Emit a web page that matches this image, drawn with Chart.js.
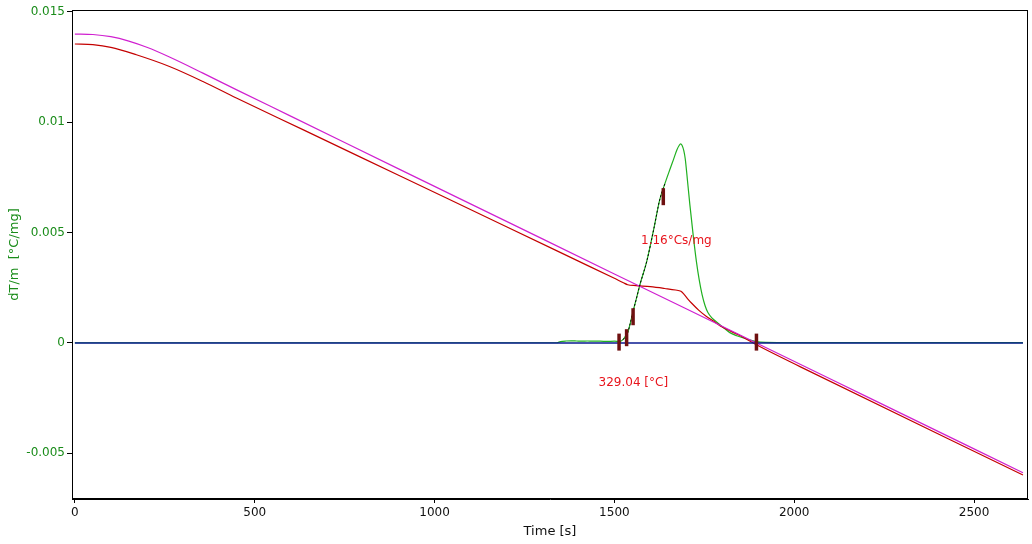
<!DOCTYPE html>
<html>
<head>
<meta charset="utf-8">
<script src="https://cdn.jsdelivr.net/npm/chart.js@4.4.1/dist/chart.umd.min.js"></script>
<style>
  html, body { margin: 0; padding: 0; background: #fff; overflow: hidden; }
  canvas { display: block; }
</style>
</head>
<body>
<canvas id="chart" width="1032" height="544"></canvas>
<script>
// axis ticks
const xTicks = [0, 500, 1000, 1500, 2000, 2500];
const yTicks = [-0.005, 0, 0.005, 0.01, 0.015];
const yTickLabels = ["-0.005", "0", "0.005", "0.01", "0.015"];

// magenta curve (baseline / reference)
const magentaT = [0, 50, 100, 150, 200, 263, 356, 450, 600, 900, 1200, 1500, 1895, 2200, 2636];
const magentaV = [0.01400, 0.01398, 0.01388, 0.01368, 0.01340, 0.01296, 0.01223, 0.01147, 0.01028, 0.00789, 0.00551, 0.00313, 0, -0.00242, -0.00588];

// red curve
const redT = [0, 50, 100, 171, 263, 356, 449, 634, 900, 1200, 1400, 1500, 1525, 1537, 1560, 1600, 1640, 1670, 1685, 1695, 1705, 1715, 1735, 1757, 1780, 1800, 1850, 1895, 2016, 2636];
const redV = [0.01355, 0.01352, 0.01340, 0.01306, 0.01253, 0.01185, 0.01110, 0.00967, 0.00760, 0.00527, 0.00371, 0.00293, 0.00273, 0.00264, 0.00260, 0.00255, 0.00247, 0.00240, 0.00234, 0.00218, 0.00198, 0.00180, 0.00148, 0.00119, 0.00094, 0.00072, 0.00033, -0.00008, -0.00107, -0.00598];

// green curve dT/m
const greenT = [0, 1340, 1350, 1365, 1380, 1395, 1410, 1425, 1440, 1460, 1480, 1500, 1515, 1524, 1530, 1537, 1544, 1551, 1561, 1571, 1590, 1610, 1626, 1640, 1654, 1664, 1674, 1680, 1684, 1688, 1693, 1697, 1703, 1710, 1719, 1728, 1736, 1744, 1752, 1760, 1772, 1785, 1800, 1821, 1840, 1857, 1875, 1895, 1920, 2000, 2636];
const greenV = [0.00001, 0.00001, 0.00006, 0.00009, 0.00010, 0.00009, 0.00008, 0.00009, 0.00008, 0.00008, 0.00007, 0.00008, 0.00006, 0.00015, 0.00028, 0.00047, 0.00088, 0.00137, 0.00200, 0.00264, 0.00370, 0.00520, 0.00649, 0.00720, 0.00785, 0.00830, 0.00876, 0.00895, 0.00902, 0.00896, 0.00872, 0.00835, 0.00740, 0.00625, 0.00490, 0.00370, 0.00285, 0.00218, 0.00170, 0.00138, 0.00112, 0.00094, 0.00074, 0.00047, 0.00033, 0.00024, 0.00014, 0.00006, 0.00003, 0.00002, 0.00002];

// blue zero line
const blueT = [0, 2636];
const blueV = [0, 0];

// evaluation markers
const markerT = [1513, 1534, 1552, 1636, 1895];
const markerV = [0.00004, 0.00024, 0.00119, 0.00663, 0.00004];

// annotation texts
const notes = [
  { text: "1.16°Cs/mg", t: 1574, v: 0.00464 },
  { text: "329.04 [°C]", t: 1456, v: -0.0018 }
];

const toXY = (ts, vs) => ts.map((t, i) => ({ x: t, y: vs[i] }));

const tangent = toXY(greenT, greenV).filter(p => p.x >= 1524 && p.x <= 1640);

Chart.defaults.font.family = "DejaVu Sans";
Chart.defaults.font.size = 12;

// frame + texts
const extras = {
  id: "extras",
  afterDatasetsDraw(chart) {
    const { ctx, chartArea: a, scales: { x, y } } = chart;
    ctx.save();
    ctx.strokeStyle = "#000";
    ctx.lineWidth = 1;
    ctx.strokeRect(Math.round(a.left) + 0.5, Math.round(a.top) + 0.5,
      Math.round(a.right - a.left) - 1, Math.round(a.bottom - a.top) - 1);
    ctx.fillStyle = "#e8141c";
    ctx.font = "12px 'DejaVu Sans'";
    ctx.textBaseline = "middle";
    ctx.textAlign = "left";
    notes.forEach(n => ctx.fillText(n.text, x.getPixelForValue(n.t), y.getPixelForValue(n.v)));
    ctx.restore();
  }
};

new Chart(document.getElementById("chart"), {
  type: "line",
  data: {
    datasets: [
      {
        data: toXY(markerT, markerV),
        showLine: false,
        pointStyle: "line",
        rotation: 90,
        pointRadius: 8.5,
        pointBorderWidth: 3.5,
        pointBorderColor: "#6e1010",
        order: 0
      },
      {
        data: tangent,
        borderColor: "#000",
        borderWidth: 1,
        borderDash: [2, 2],
        pointRadius: 0,
        cubicInterpolationMode: "monotone",
        order: 1
      },
      {
        data: toXY(blueT, blueV),
        borderColor: "#0a1a90",
        borderWidth: 1.5,
        pointRadius: 0,
        order: 2
      },
      {
        data: toXY(magentaT, magentaV),
        borderColor: "#d020d0",
        borderWidth: 1.2,
        pointRadius: 0,
        cubicInterpolationMode: "monotone",
        order: 3
      },
      {
        data: toXY(redT, redV),
        borderColor: "#c40000",
        borderWidth: 1.2,
        pointRadius: 0,
        cubicInterpolationMode: "monotone",
        order: 4
      },
      {
        data: toXY(greenT, greenV),
        borderColor: "#20b020",
        borderWidth: 1.2,
        pointRadius: 0,
        cubicInterpolationMode: "monotone",
        order: 5
      }
    ]
  },
  options: {
    responsive: false,
    animation: false,
    layout: { autoPadding: false, padding: { top: 10, right: 4, left: 0, bottom: 0 } },
    plugins: { legend: { display: false }, tooltip: { enabled: false } },
    scales: {
      x: {
        type: "linear",
        min: -8,
        max: 2650,
        afterFit: s => { s.height = 45; s.paddingLeft = 0; s.paddingRight = 0; },
        afterBuildTicks: s => { s.ticks = xTicks.map(v => ({ value: v })); },
        grid: { drawOnChartArea: false, drawTicks: true, tickLength: 4, color: "#000" },
        border: { display: true, color: "#000" },
        ticks: { color: "#111", padding: 3, maxRotation: 0, callback: v => String(v) },
        title: { display: true, text: "Time [s]", color: "#111", font: { size: 13 }, padding: { top: 0, bottom: 5 } }
      },
      y: {
        type: "linear",
        min: -0.00707,
        max: 0.01509,
        afterFit: s => { s.width = 72; s.paddingTop = 0; s.paddingBottom = 0; },
        afterBuildTicks: s => { s.ticks = yTicks.map(v => ({ value: v })); },
        grid: { drawOnChartArea: false, drawTicks: true, tickLength: 5, color: "#000" },
        border: { display: true, color: "#000" },
        ticks: { color: "#1a8c1a", padding: 2, callback: (v, i) => yTickLabels[i] },
        title: { display: true, text: "dT/m  [°C/mg]", color: "#1a8c1a", font: { size: 13 }, padding: { top: 7, bottom: 0 } }
      }
    }
  },
  plugins: [extras]
});
</script>
</body>
</html>
